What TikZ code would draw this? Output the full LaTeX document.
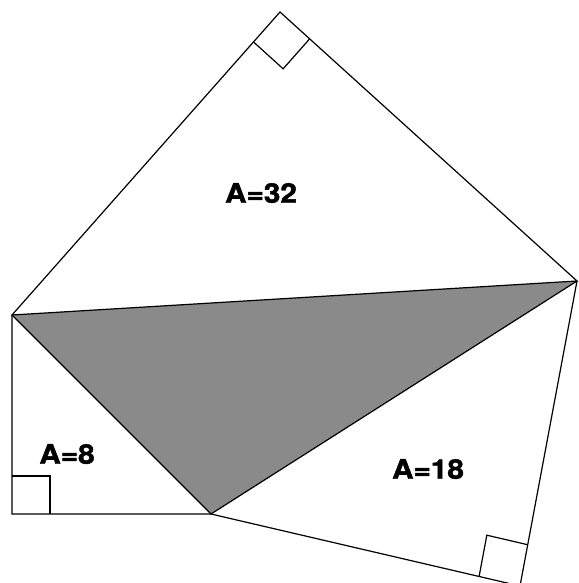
\documentclass[tikz,border=0pt]{standalone}
\usepackage{fontspec}
\setmainfont{TeX Gyre Heros}[BoldFeatures={FakeBold=1.6}]
\usetikzlibrary{calc}
\definecolor{shadegray}{RGB}{138,138,138}
\tikzset{
  edge/.style={line width=1.2pt, line join=miter, black},
  area/.style={font=\fontsize{27}{30}\selectfont\bfseries, inner sep=0pt},
  rmark/.style={line width=1.2pt, black}
}
\newcommand{\wlab}[1]{\scalebox{1.1}[1]{#1}}
\begin{document}
\begin{tikzpicture}[x=1pt,y=-1pt]
\useasboundingbox (0,0) rectangle (578,583);
\coordinate (T) at (280,12);
\coordinate (L) at (12,315);
\coordinate (R) at (577,281);
\coordinate (C) at (12,514);
\coordinate (B) at (211,514);
\coordinate (D) at (520,586);
% shaded triangle
\fill[shadegray] (L) -- (B) -- (R) -- cycle;
% outlines
\draw[edge] (L) -- (T) -- (R) -- cycle;
\draw[edge] (L) -- (B) -- (R);
\draw[edge] (R) -- (D) -- (B) -- (C) -- (L);
% right angle marks
\coordinate (t1) at ($(T)!40pt!(L)$);
\coordinate (t2) at ($(T)!40pt!(R)$);
\draw[rmark] (t1) -- ($(t1)+(t2)-(T)$) -- (t2);
\coordinate (c1) at ($(C)!38pt!(L)$);
\coordinate (c2) at ($(C)!38pt!(B)$);
\draw[rmark] (c1) -- ($(c1)+(c2)-(C)$) -- (c2);
\coordinate (d1) at ($(D)!42pt!(B)$);
\coordinate (d2) at ($(D)!42pt!(R)$);
\draw[rmark] (d1) -- ($(d1)+(d2)-(D)$) -- (d2);
% labels
\node[area] (a32) at (261,193) {\wlab{A=32}};
\node[area] (a8) at (67,454) {\wlab{A=8}};
\node[area] (a18) at (428,469) {\wlab{A=18}};
\end{tikzpicture}
\end{document}
